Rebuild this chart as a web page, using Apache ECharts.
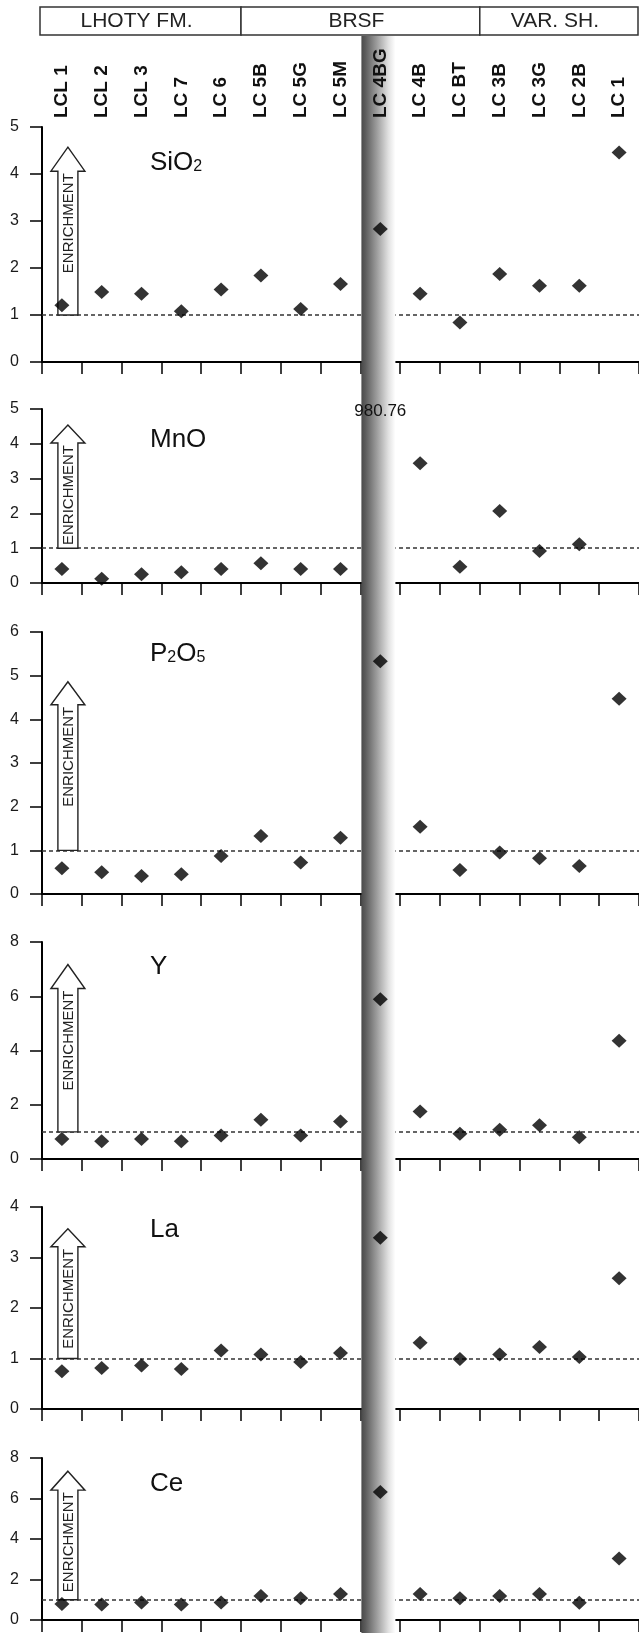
<!DOCTYPE html>
<html><head><meta charset="utf-8">
<script src="https://cdn.jsdelivr.net/npm/echarts@6/dist/echarts.min.js"></script>
<style>html,body{margin:0;padding:0;background:#fff}#c{width:639px;height:1633px}</style>
</head><body><div id="c"></div>
<script>
// ---------------- DATA ----------------
const categories = ['LCL 1','LCL 2','LCL 3','LC 7','LC 6','LC 5B','LC 5G','LC 5M','LC 4BG','LC 4B','LC BT','LC 3B','LC 3G','LC 2B','LC 1'];
const formationNames = ['LHOTY FM.','BRSF','VAR. SH.'];
const formationSpans = [5, 6, 4];
const highlightCategory = 'LC 4BG';

const panelNames = ['SiO2','MnO','P2O5','Y','La','Ce'];
const sio2 = [1.21,1.49,1.45,1.08,1.54,1.84,1.13,1.66,2.83,1.45,0.84,1.87,1.62,1.62,4.46];
const mno  = [0.40,0.12,0.25,0.31,0.40,0.57,0.40,0.40,980.76,3.44,0.47,2.07,0.92,1.11,null];
const p2o5 = [0.59,0.50,0.41,0.45,0.87,1.33,0.72,1.29,5.33,1.54,0.55,0.95,0.82,0.64,4.47];
const yVals= [0.74,0.65,0.74,0.65,0.87,1.45,0.87,1.38,5.89,1.75,0.93,1.08,1.24,0.80,4.36];
const la   = [0.75,0.81,0.86,0.79,1.16,1.08,0.93,1.11,3.39,1.31,0.99,1.08,1.23,1.03,2.59];
const ce   = [0.79,0.77,0.87,0.77,0.87,1.18,1.07,1.28,6.32,1.28,1.07,1.18,1.28,0.85,3.04];
const yMax = [5,5,6,8,4,8];
const yInterval = [1,1,1,2,1,2];
const refLevel = 1;
const arrowTip = [4.57,4.54,4.86,7.17,3.57,7.35];

// ---------------- LAYOUT ----------------
const W = 639, H = 1633, GL = 42;
const FONT = '"Liberation Sans", Arial, sans-serif';
const gridTop  = [127,409,632,942,1207,1458];
const gridZero = [362,583,894,1159,1409,1620];
const titleY   = [163,440,654,967,1230,1484];
const headH    = [24,18,23,24,18,19];
const seriesData = [sio2, mno, p2o5, yVals, la, ce];

const chart = echarts.init(document.getElementById('c'), null, {renderer:'canvas', width:W, height:H});

const grid = gridTop.map((t,i)=>({left:GL, right:0, top:t, height:gridZero[i]-t}));
const xAxis = grid.map((g,i)=>({
  type:'category', gridIndex:i, data:categories, boundaryGap:true, position:'bottom',
  axisLine:{show:true, onZero:false, lineStyle:{color:'#000', width:2}},
  axisTick:{show:true, interval:0, length:12, lineStyle:{color:'#000', width:1.5}},
  axisLabel:{show:false}, splitLine:{show:false}
}));
xAxis.push({
  type:'category', gridIndex:0, data:categories, position:'top', boundaryGap:true, z:20,
  axisLine:{show:false}, axisTick:{show:false}, splitLine:{show:false},
  axisLabel:{show:true, interval:0, rotate:90, margin:9, fontSize:19, fontWeight:'bold', color:'#111', fontFamily:FONT}
});
const yAxis = grid.map((g,i)=>({
  type:'value', gridIndex:i, min:0, max:yMax[i], interval:yInterval[i],
  axisLine:{show:true, onZero:false, lineStyle:{color:'#000', width:2}},
  axisTick:{show:true, length:12, lineStyle:{color:'#000', width:1.5}},
  axisLabel:{margin:23, fontSize:16, color:'#1a1a1a', fontFamily:FONT},
  splitLine:{show:false}
}));
const series = seriesData.map((d,i)=>({
  type:'scatter', name:panelNames[i], xAxisIndex:i, yAxisIndex:i, data:d, clip:true,
  symbol:'diamond', symbolSize:[15,14], itemStyle:{color:'#000'}, z:10,
  markLine:{silent:true, symbol:'none', z:1, animation:false, label:{show:false},
    lineStyle:{type:[4,3], color:'#333', width:1.5}, data:[{yAxis:refLevel}]}
}));
// off-scale value label (MnO, LC 4BG)
const offIdx = categories.indexOf(highlightCategory);
series[1].markPoint = {
  symbol:'rect', symbolSize:1, itemStyle:{color:'rgba(0,0,0,0)'}, z:12, animation:false,
  label:{show:true, position:'inside', formatter:p=>String(p.value), fontSize:17, color:'#111', fontFamily:FONT},
  data:[{coord:[highlightCategory, 4.94], value:mno[offIdx]}]
};

chart.setOption({animation:false, backgroundColor:'#fff', grid, xAxis, yAxis, series});

// ---------------- ANNOTATIONS ----------------
const cx = i => chart.convertToPixel({xAxisIndex:0}, categories[i]);
const cw = cx(1) - cx(0);
const py = (i,v) => chart.convertToPixel({yAxisIndex:i}, v);
const graphic = [];

// shaded band
const bx = cx(offIdx) - cw/2 + 1;
graphic.push({type:'rect', z:5, silent:true, shape:{x:bx, y:36, width:34, height:H-36},
  style:{fill:{type:'linear', x:0, y:0, x2:1, y2:0, colorStops:[
    {offset:0, color:'#4a4a4a'},{offset:0.12, color:'#5c5c5c'},{offset:0.45, color:'#9c9c9c'},
    {offset:0.8, color:'#e2e2e2'},{offset:1, color:'#ffffff'}]}}});

// header boxes
let start = 0;
formationNames.forEach((nm,k)=>{
  const x0 = (k===0 ? cx(0)-cw/2-2 : cx(start)-cw/2);
  const endIdx = start + formationSpans[k] - 1;
  const x1 = (k===formationNames.length-1 ? W-1 : cx(endIdx)+cw/2);
  graphic.push({type:'rect', z:6, silent:true, shape:{x:x0, y:7, width:x1-x0, height:28},
    style:{fill:'#fff', stroke:'#333', lineWidth:1.5}});
  graphic.push({type:'text', z:7, silent:true, x:(x0+x1)/2 - 4, y:21,
    style:{text:nm, fontSize:21, fontFamily:FONT, fill:'#222', align:'center', verticalAlign:'middle'}});
  start += formationSpans[k];
});

// titles and enrichment arrows
const titleRich = {
  'SiO2':'{n|SiO}{s|2}', 'MnO':'{n|MnO}', 'P2O5':'{n|P}{s|2}{n|O}{s|5}', 'Y':'{n|Y}', 'La':'{n|La}', 'Ce':'{n|Ce}'
};
const ax = cx(0) + 6;
panelNames.forEach((nm,i)=>{
  graphic.push({type:'text', z:7, silent:true, x:150, y:titleY[i],
    style:{text:titleRich[nm], fontFamily:FONT, fill:'#111', align:'left', verticalAlign:'middle',
      rich:{n:{fontSize:26, fontFamily:FONT, fill:'#111', verticalAlign:'bottom'},
            s:{fontSize:16, fontFamily:FONT, fill:'#111', verticalAlign:'bottom', padding:[0,0,1,0]}}}});
  const yb = py(i, refLevel), yt = py(i, arrowTip[i]), ys = yt + headH[i];
  graphic.push({type:'polygon', z:7, silent:true,
    shape:{points:[[ax,yt],[ax+17,ys],[ax+10,ys],[ax+10,yb],[ax-10,yb],[ax-10,ys],[ax-17,ys]]},
    style:{fill:'#fff', stroke:'#222', lineWidth:1.4}});
  graphic.push({type:'text', z:8, silent:true, x:ax+1, y:ys+2, rotation:Math.PI/2,
    style:{text:'ENRICHMENT', fontSize:15, fontFamily:FONT, fill:'#222', align:'right', verticalAlign:'middle'}});
});

chart.setOption({graphic});
</script></body></html>
